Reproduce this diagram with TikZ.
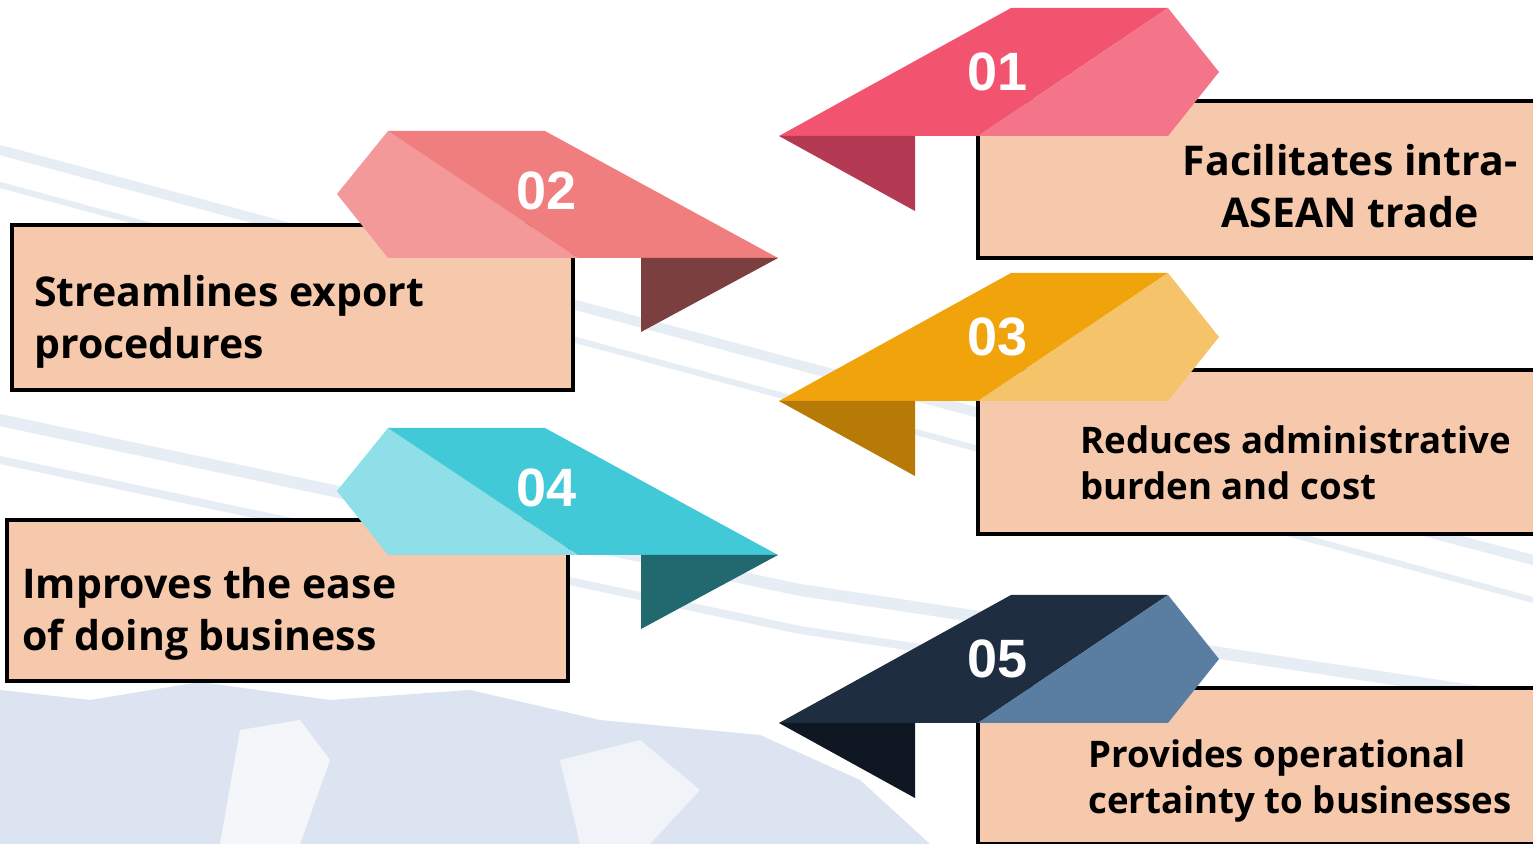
\documentclass[tikz,border=0pt]{standalone}
\usepackage{fontspec}
\setmainfont{Open Sans}
\newfontfamily\numfont{Liberation Sans}
\definecolor{boxfill}{RGB}{246,201,172}
\definecolor{bgblue}{RGB}{196,210,230}
\definecolor{aD}{RGB}{242,83,111}\definecolor{aL}{RGB}{244,116,137}\definecolor{aF}{RGB}{179,58,82}
\definecolor{bD}{RGB}{241,126,126}\definecolor{bL}{RGB}{243,153,153}\definecolor{bF}{RGB}{123,63,63}
\definecolor{cD}{RGB}{240,163,10}\definecolor{cL}{RGB}{245,195,106}\definecolor{cF}{RGB}{183,122,6}
\definecolor{dD}{RGB}{66,201,216}\definecolor{dL}{RGB}{142,223,231}\definecolor{dF}{RGB}{34,105,111}
\definecolor{eD}{RGB}{31,45,64}\definecolor{eL}{RGB}{90,126,162}\definecolor{eF}{RGB}{14,23,34}
\tikzset{
  infobox/.style={draw=black,line width=2pt,fill=boxfill},
  numlabel/.style={font=\numfont\bfseries\fontsize{27}{30}\selectfont,text=white,inner sep=0pt},
  bigtext/.style={font=\bfseries\fontsize{20.5}{26}\selectfont,inner sep=0pt},
  smalltext/.style={font=\bfseries\fontsize{18.3}{23}\selectfont,inner sep=0pt,align=left},
  band/.style={draw=bgblue,opacity=0.4,line cap=round}
}
% right ribbon: #1 top y, #2 dark, #3 light, #4 fold, #5 number, #6 name
\newcommand\ribbonright[6]{%
  \fill[#2] (779,#1+128) -- (1011,#1) -- (1168,#1) -- (978,#1+128) -- cycle;
  \fill[#3] (978,#1+128) -- (1168,#1) -- (1219,#1+64) -- (1168,#1+128) -- cycle;
  \fill[#4] (779,#1+128) -- (915,#1+128) -- (915,#1+203) -- cycle;
  \node[numlabel] (#6) at (998,#1+64) {#5};}
\newcommand\ribbonleft[6]{%
  \fill[#3] (337,#1+63) -- (388,#1) -- (578,#1+127) -- (388,#1+127) -- cycle;
  \fill[#2] (388,#1) -- (545,#1) -- (778,#1+127) -- (578,#1+127) -- cycle;
  \fill[#4] (641,#1+127) -- (778,#1+127) -- (641,#1+201) -- cycle;
  \node[numlabel] (#6) at (547,#1+60) {#5};}
\begin{document}
\begin{tikzpicture}[x=0.5pt,y=-0.5pt]
\useasboundingbox (0,0) rectangle (1533,844);
\clip (0,0) rectangle (1533,844);
\fill[white] (0,0) rectangle (1533,844);
% faint background photo impression
\draw[band,line width=5pt] (0,150) -- (780,360) -- (1533,560);
\draw[band,line width=3pt] (0,185) -- (780,395) -- (1533,600);
\draw[band,line width=6pt] (0,420) -- (800,590) -- (1533,700);
\draw[band,line width=4pt] (0,460) -- (800,630) -- (1533,740);
\fill[bgblue,opacity=0.6] (0,690) -- (90,700) -- (200,682) -- (330,700) -- (470,690) -- (600,720)
  -- (760,735) -- (860,780) -- (930,844) -- (0,844) -- cycle;
\fill[white,opacity=0.7] (240,730) -- (300,720) -- (330,760) -- (300,844) -- (220,844) -- cycle;
\fill[white,opacity=0.6] (560,760) -- (640,740) -- (700,790) -- (650,844) -- (580,844) -- cycle;
% boxes
\node[infobox,anchor=north west,minimum width=284.5pt,minimum height=78.5pt] (box1) at (976,99) {};
\node[infobox,anchor=north west,minimum width=284.5pt,minimum height=82pt] (box3) at (976,368) {};
\node[infobox,anchor=north west,minimum width=284.5pt,minimum height=78pt] (box5) at (976,686) {};
\node[infobox,anchor=north west,minimum width=280.5pt,minimum height=82.5pt] (box2) at (10,223) {};
\node[infobox,anchor=north west,minimum width=280.5pt,minimum height=80.5pt] (box4) at (5,518) {};
% ribbons
\ribbonright{8}{aD}{aL}{aF}{01}{n1}
\ribbonright{273}{cD}{cL}{cF}{03}{n3}
\ribbonright{595}{eD}{eL}{eF}{05}{n5}
\ribbonleft{131}{bD}{bL}{bF}{02}{n2}
\ribbonleft{428}{dD}{dL}{dF}{04}{n4}
% texts
\node[bigtext,align=center] (t1) at (1350,186) {Facilitates intra-\\ASEAN trade};
\node[bigtext,align=left,anchor=west] (t2) at (34,322) {Streamlines export\\procedures};
\node[smalltext,anchor=west] (t3) at (1080,463) {Reduces administrative\\burden and cost};
\node[bigtext,align=left,anchor=west] (t4) at (22,614) {Improves the ease\\of doing business};
\node[smalltext,anchor=west] (t5) at (1088,781) {Provides operational\\certainty to businesses};
\end{tikzpicture}
\end{document}
